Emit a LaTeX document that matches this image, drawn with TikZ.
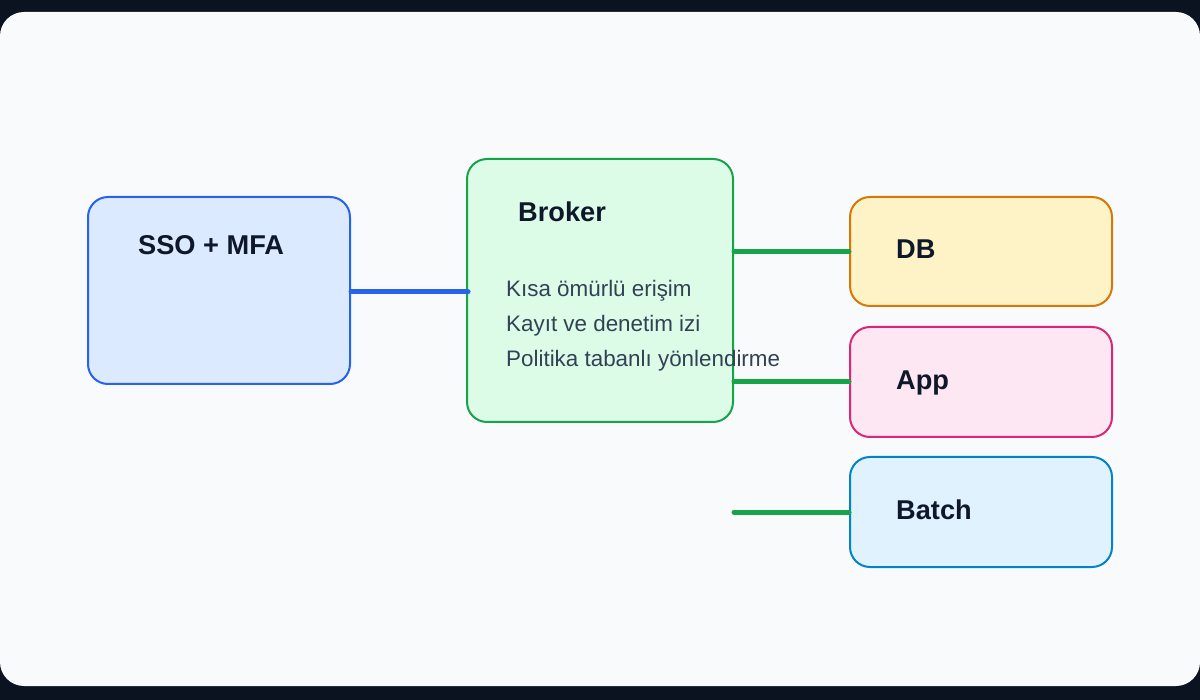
\documentclass[tikz,border=0pt]{standalone}
\usepackage{fontspec}
\setmainfont{Liberation Sans}
\usetikzlibrary{positioning,calc}

\definecolor{pagebg}{HTML}{0B1220}
\definecolor{panel}{HTML}{F8FAFC}
\definecolor{ink}{HTML}{0F172A}
\definecolor{slate}{HTML}{334155}
\definecolor{ssoline}{HTML}{2563EB}
\definecolor{ssofill}{HTML}{DBEAFE}
\definecolor{brkline}{HTML}{16A34A}
\definecolor{brkfill}{HTML}{DCFCE7}
\definecolor{dbline}{HTML}{D97706}
\definecolor{dbfill}{HTML}{FEF3C7}
\definecolor{appline}{HTML}{DB2777}
\definecolor{appfill}{HTML}{FCE7F3}
\definecolor{batline}{HTML}{0284C7}
\definecolor{batfill}{HTML}{E0F2FE}

\begin{document}
\begin{tikzpicture}[x=1pt,y=-1pt,
    box/.style={draw, line width=2pt, rounded corners=20pt, inner sep=0pt},
    title/.style={anchor=base west, inner sep=0pt, text=ink,
      font=\fontsize{27.2}{31}\selectfont\bfseries},
    item/.style={anchor=base west, inner sep=0pt, text=slate,
      font=\fontsize{22.4}{26}\selectfont},
    link/.style={line width=5pt, line cap=round}]
    % page and panel
    \fill[pagebg] (0,0) rectangle (1200,700);
    \fill[panel, rounded corners=24pt] (0,12) rectangle (1200,686);
    \useasboundingbox (0,0) rectangle (1200,700);

    % boxes
    \node[box, draw=ssoline, fill=ssofill, minimum width=262pt, minimum height=187pt] (sso) at (219,290.5) {};
    \node[box, draw=brkline, fill=brkfill, minimum width=266pt, minimum height=263pt] (broker) at (600,290.5) {};
    \node[box, draw=dbline, fill=dbfill, minimum width=262pt, minimum height=109pt] (db) at (981,251.5) {};
    \node[box, draw=appline, fill=appfill, minimum width=262pt, minimum height=110pt] (app) at (981,382) {};
    \node[box, draw=batline, fill=batfill, minimum width=262pt, minimum height=110pt] (batch) at (981,512) {};

    % titles
    \node[title] (ssot) at (138,255) {SSO + MFA};
    \node[title] (brokert) at (518,222) {Broker};
    \node[title] (dbt) at (896,259) {DB};
    \node[title] (appt) at (896,390) {App};
    \node[title] (batcht) at (896,519.5) {Batch};

    % broker items
    \node[item] (item1) at (506,297) {Kısa ömürlü erişim};
    \node[item] (item2) at (506,332) {Kayıt ve denetim izi};
    \node[item] (item3) at (506,367) {Politika tabanlı yönlendirme};

    % links
    \draw[link, ssoline] (sso.east |- 0,292) -- ([xshift=2pt]broker.west |- 0,292);
    \draw[link, brkline] (db.west -| broker.east) -- (db.west);
    \draw[link, brkline] (app.west -| broker.east) -- (app.west);
    \draw[link, brkline] (batch.west -| broker.east) -- (batch.west);
\end{tikzpicture}
\end{document}
